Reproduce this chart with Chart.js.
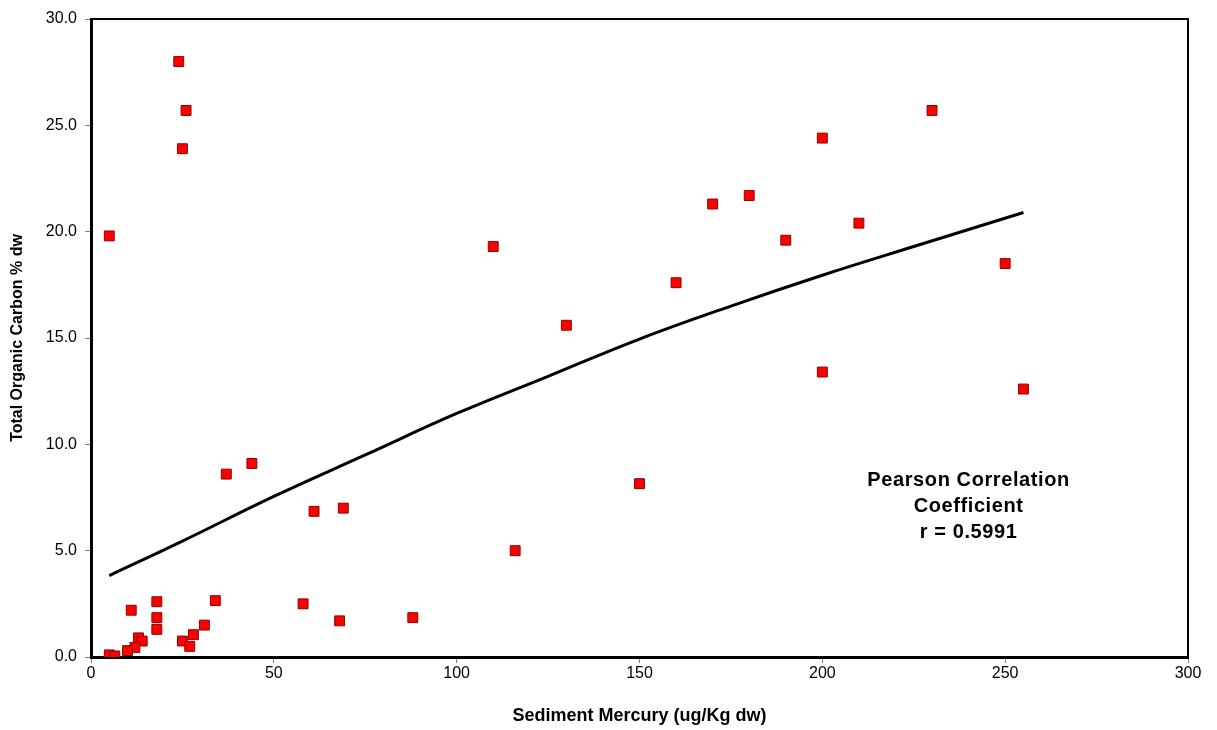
<!DOCTYPE html>
<html>
<head>
<meta charset="utf-8">
<script src="https://cdn.jsdelivr.net/npm/chart.js@4/dist/chart.umd.min.js"></script>
<style>
  html, body { margin: 0; padding: 0; background: #fff; }
  #wrap { width: 1217px; height: 730px; position: relative; }
</style>
</head>
<body>
<div id="wrap"><canvas id="c" width="1217" height="730"></canvas></div>
<script>
// Sediment mercury (ug/Kg dw) vs total organic carbon (% dw) per sample
const mercury = [5, 24, 26, 25, 37, 44, 61, 69, 58, 68, 88, 110, 116, 130, 150, 160, 170, 180, 190, 200, 200, 210, 230, 250, 255,
                 18, 11, 18, 18, 34, 31, 28, 25, 27, 13, 14, 12, 10, 5, 6.5];
const carbon  = [19.8, 28.0, 25.7, 23.9, 8.6, 9.1, 6.85, 7.0, 2.5, 1.7, 1.85, 19.3, 5.0, 15.6, 8.15, 17.6, 21.3, 21.7, 19.6, 24.4, 13.4, 20.4, 25.7, 18.5, 12.6,
                 2.6, 2.2, 1.85, 1.3, 2.65, 1.5, 1.05, 0.75, 0.5, 0.9, 0.75, 0.45, 0.3, 0.1, 0.05];

// Fitted trend curve
const trendX = [5, 25, 50, 75, 100, 125, 150, 175, 200, 225, 255];
const trendY = [3.83, 5.45, 7.55, 9.5, 11.45, 13.2, 14.95, 16.5, 17.95, 19.3, 20.9];

const xTicks = [0, 50, 100, 150, 200, 250, 300];
const yTicks = [0, 5, 10, 15, 20, 25, 30];
const noteLines = ['Pearson Correlation', 'Coefficient', 'r = 0.5991'];

const points = mercury.map((x, i) => ({ x: x, y: carbon[i] }));
const trend = trendX.map((x, i) => ({ x: x, y: trendY[i] }));

const FONT = '"Liberation Sans", Arial, sans-serif';

const frame = {
  id: 'frame',
  afterDatasetsDraw(chart) {
    const a = chart.chartArea;
    const ctx = chart.ctx;
    ctx.save();
    ctx.strokeStyle = '#000';
    ctx.lineWidth = 2;
    ctx.beginPath();
    ctx.moveTo(a.left, a.top);
    ctx.lineTo(a.right, a.top);
    ctx.lineTo(a.right, a.bottom);
    ctx.stroke();
    // correlation note
    const xs = chart.scales.x, ys = chart.scales.y;
    const cx = xs.getPixelForValue(240);
    const cy = ys.getPixelForValue(8.3);
    ctx.fillStyle = '#000';
    ctx.font = 'bold 20px ' + FONT;
    ctx.letterSpacing = '0.6px';
    ctx.textAlign = 'center';
    ctx.textBaseline = 'middle';
    noteLines.forEach((t, i) => ctx.fillText(t, cx, cy + i * 26));
    ctx.restore();
  }
};

new Chart(document.getElementById('c'), {
  type: 'scatter',
  data: {
    datasets: [
      {
        type: 'line',
        data: trend,
        borderColor: '#000',
        borderWidth: 3,
        pointRadius: 0,
        fill: false,
        tension: 0.4,
        order: 2
      },
      {
        data: points,
        pointStyle: 'rect',
        pointRadius: 7,
        pointHoverRadius: 7,
        backgroundColor: '#ff0000',
        borderColor: '#8b0000',
        borderWidth: 1,
        order: 1
      }
    ]
  },
  options: {
    responsive: false,
    animation: false,
    devicePixelRatio: 1,
    layout: { padding: { left: 0, right: 29, top: 19, bottom: 0 } },
    plugins: { legend: { display: false }, tooltip: { enabled: false } },
    scales: {
      x: {
        type: 'linear',
        min: 0, max: 300,
        afterBuildTicks(s) { s.ticks = xTicks.map(v => ({ value: v })); },
        afterFit(s) { s.height = 73; },
        ticks: {
          color: '#000',
          font: { family: FONT, size: 16 },
          padding: 1,
          callback: v => String(v)
        },
        grid: { drawOnChartArea: false, drawTicks: true, tickLength: 6, tickColor: '#808080', tickWidth: 1 },
        border: { display: true, color: '#000', width: 3 },
        title: {
          display: true,
          text: 'Sediment Mercury (ug/Kg dw)',
          color: '#000',
          font: { family: FONT, size: 18, weight: 'bold' },
          padding: { top: 0, bottom: 3 }
        }
      },
      y: {
        type: 'linear',
        min: 0, max: 30,
        afterBuildTicks(s) { s.ticks = yTicks.map(v => ({ value: v })); },
        afterFit(s) { s.width = 91; },
        ticks: {
          color: '#000',
          font: { family: FONT, size: 16 },
          padding: 8,
          callback: v => Number(v).toFixed(1)
        },
        grid: { drawOnChartArea: false, drawTicks: true, tickLength: 6, tickColor: '#808080', tickWidth: 1 },
        border: { display: true, color: '#000', width: 3 },
        title: {
          display: true,
          text: 'Total Organic Carbon % dw',
          color: '#000',
          font: { family: FONT, size: 16, weight: 'bold' },
          padding: { top: 8, bottom: 0 }
        }
      }
    }
  },
  plugins: [frame]
});
</script>
</body>
</html>
